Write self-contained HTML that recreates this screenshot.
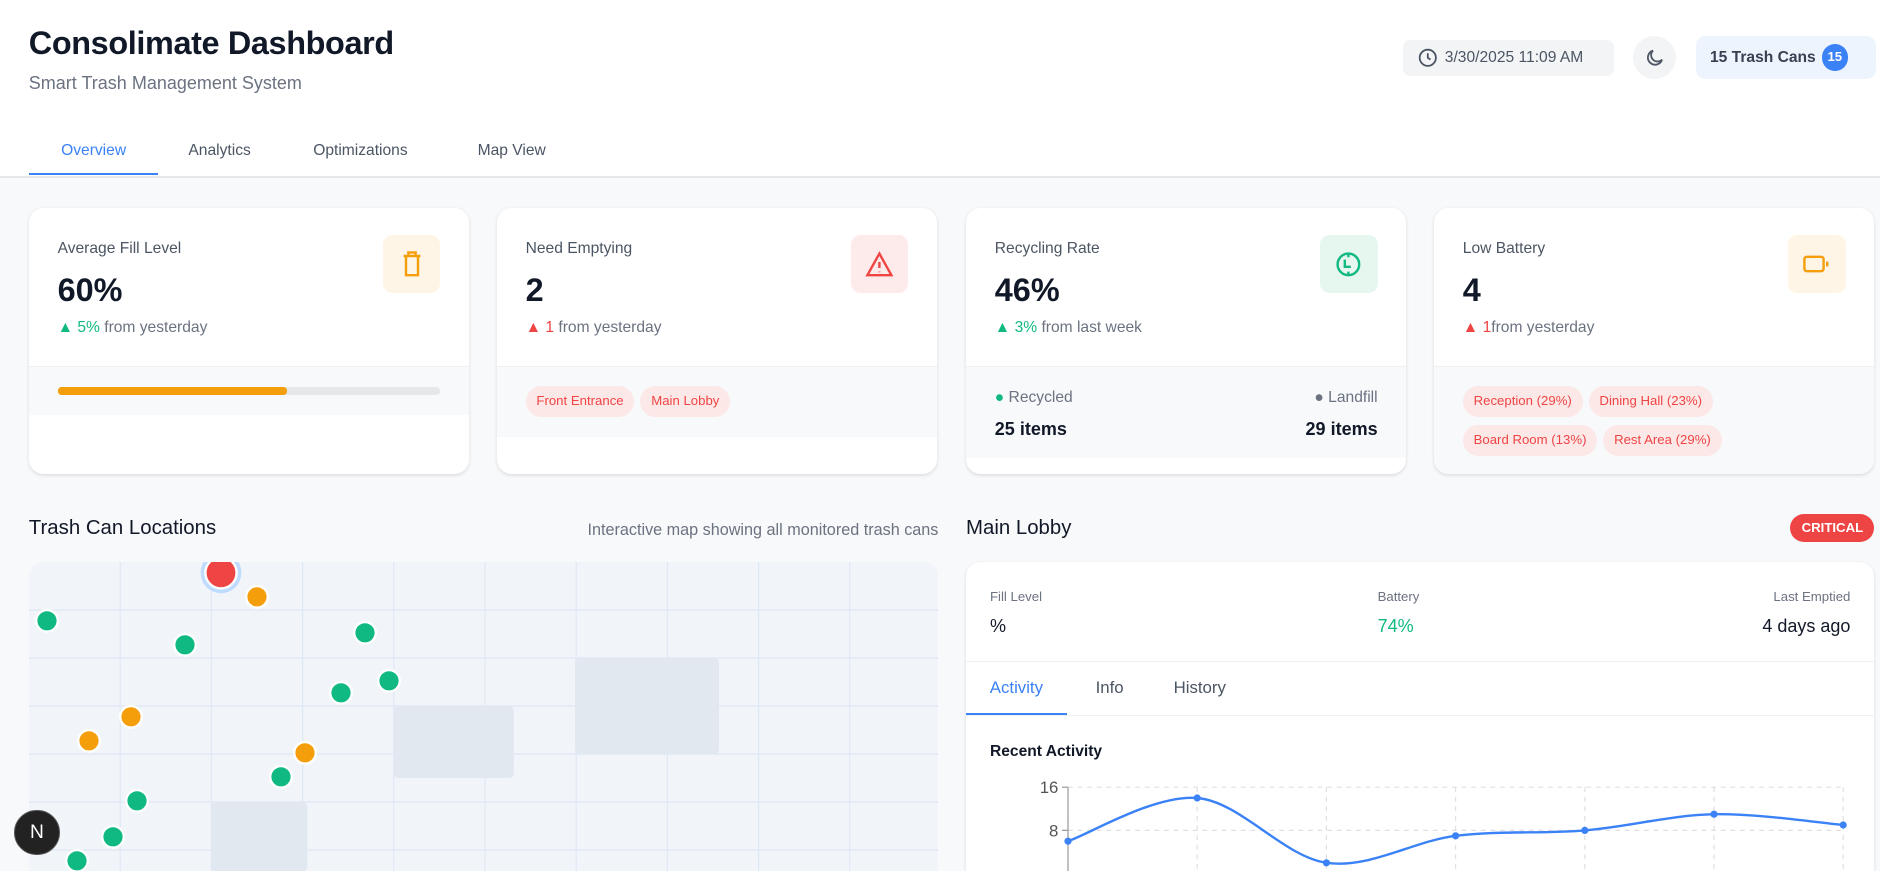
<!DOCTYPE html>
<html><head><meta charset="utf-8">
<style>
html,body{margin:0;padding:0;width:1880px;height:871px;overflow:hidden;background:#f8f9fb;font-family:"Liberation Sans",sans-serif;}
#root{position:relative;width:1567px;height:726px;zoom:1.2;overflow:hidden;background:#f8f9fb;}
.abs{position:absolute;}
.card{position:absolute;background:#fff;border-radius:12px;box-shadow:0 1px 3px rgba(0,0,0,.12);overflow:hidden;}
.lbl{position:absolute;font-size:13px;color:#4b5563;}
.big{position:absolute;font-size:27px;font-weight:bold;color:#111827;}
.chg{position:absolute;font-size:13px;color:#6b7280;}
.ibox{position:absolute;width:48px;height:48px;border-radius:8px;}
.foot{position:absolute;left:0;right:0;top:132px;height:40px;background:#f8f9fb;border-top:1px solid #eef0f3;}
.pill{display:inline-block;background:#fde8e8;color:#ef4444;font-size:11px;line-height:14px;border-radius:13px;padding:6px 9px;margin:0 5px 6px 0;white-space:nowrap;}
</style></head><body>
<div id="root">
<div class="abs" style="left:0;top:0;width:1567px;height:147px;background:#fff;border-bottom:2px solid #e5e7eb;"></div>
<div class="abs" style="left:24px;top:21px;font-size:27px;font-weight:bold;color:#111827;letter-spacing:-0.3px;">Consolimate Dashboard</div>
<div class="abs" style="left:24px;top:61px;font-size:15px;color:#6b7280;">Smart Trash Management System</div>
<div class="abs" style="left:1169px;top:33px;width:176px;height:30px;background:#f3f4f6;border-radius:6px;font-size:13px;color:#4b5563;line-height:30px;">
<svg class="abs" style="left:12px;top:6px" width="18" height="18" viewBox="0 0 24 24" fill="none" stroke="#4b5563" stroke-width="2"><circle cx="12" cy="12" r="9"/><path d="M12 7v5l3 2"/></svg>
<span style="position:absolute;left:35px;">3/30/2025 11:09 AM</span></div>
<div class="abs" style="left:1361px;top:30px;width:36px;height:36px;border-radius:50%;background:#f3f4f6;">
<svg class="abs" style="left:9px;top:9px" width="18" height="18" viewBox="0 0 24 24" fill="none" stroke="#4b5563" stroke-width="2"><path d="M20 14A8 8 0 1 1 10 4a6 6 0 0 0 10 10z"/></svg></div>
<div class="abs" style="left:1413px;top:30px;width:150px;height:36px;border-radius:8px;background:#eef4fe;">
<span class="abs" style="left:12px;top:11px;font-size:13px;font-weight:bold;color:#374151;">15 Trash Cans</span>
<span class="abs" style="left:105px;top:7px;width:22px;height:22px;border-radius:50%;background:#3b82f6;color:#fff;font-size:11px;font-weight:bold;text-align:center;line-height:22px;">15</span></div>
<div class="abs" style="left:24px;top:109px;width:108px;height:37px;text-align:center;font-size:13px;color:#3b82f6;border-bottom:2px solid #3b82f6;box-sizing:border-box;padding-top:9px;">Overview</div>
<div class="abs" style="left:157px;top:118px;font-size:13px;color:#4b5563;">Analytics</div>
<div class="abs" style="left:261px;top:118px;font-size:13px;color:#4b5563;">Optimizations</div>
<div class="abs" style="left:398px;top:118px;font-size:13px;color:#4b5563;">Map View</div>

<div class="card" style="left:24px;top:173px;width:367px;height:222px;">
<div class="lbl" style="left:24px;top:27px;">Average Fill Level</div>
<div class="big" style="left:24px;top:54px;">60%</div>
<div class="chg" style="left:24px;top:93px;"><span style="color:#10b981">▲ 5%</span> from yesterday</div>
<div class="ibox" style="left:295px;top:23px;background:#fef5e6;"><svg style="position:absolute;left:14px;top:12px" width="20" height="24" viewBox="0 0 20 24" fill="none" stroke="#f59e0b" stroke-width="2"><path d="M3 5h14M7 5V2h6v3M5 5v16h10V5"/></svg></div>
<div class="foot" style="height:40px;"><div class="abs" style="left:24px;top:17px;width:319px;height:6px;background:#e5e7eb;border-radius:3px;"><div style="width:60%;height:100%;background:#f59e0b;border-radius:3px;"></div></div></div>
</div>
<div class="card" style="left:414px;top:173px;width:367px;height:222px;">
<div class="lbl" style="left:24px;top:27px;">Need Emptying</div>
<div class="big" style="left:24px;top:54px;">2</div>
<div class="chg" style="left:24px;top:93px;"><span style="color:#ef4444">▲ 1</span> from yesterday</div>
<div class="ibox" style="left:295px;top:23px;background:#fdeaea;"><svg style="position:absolute;left:12px;top:12px" width="24" height="24" viewBox="0 0 24 24" fill="none" stroke="#ef4444" stroke-width="2"><path d="M12 3L2 21h20z M12 10v5 M12 18v.5"/></svg></div>
<div class="foot" style="height:58px;"><div class="abs" style="left:24px;top:16px;white-space:nowrap;"><span class="pill">Front Entrance</span><span class="pill">Main Lobby</span></div></div>
</div>
<div class="card" style="left:805px;top:173px;width:367px;height:222px;">
<div class="lbl" style="left:24px;top:27px;">Recycling Rate</div>
<div class="big" style="left:24px;top:54px;">46%</div>
<div class="chg" style="left:24px;top:93px;"><span style="color:#10b981">▲ 3%</span> from last week</div>
<div class="ibox" style="left:295px;top:23px;background:#e6f7f0;"><svg style="position:absolute;left:12px;top:12px" width="24" height="24" viewBox="0 0 24 24" fill="none" stroke="#10b981" stroke-width="2"><circle cx="12" cy="12" r="9"/><path d="M9 8v6h5M12 3v3M12 18v3"/></svg></div>
<div class="foot" style="height:76px;">
<div class="abs" style="left:24px;top:18px;font-size:13px;color:#6b7280;"><span style="color:#10b981">●</span> Recycled</div>
<div class="abs" style="right:24px;top:18px;font-size:13px;color:#6b7280;"><span style="color:#6b7280">●</span> Landfill</div>
<div class="abs" style="left:24px;top:43px;font-size:15px;font-weight:bold;color:#111827;">25 items</div>
<div class="abs" style="right:24px;top:43px;font-size:15px;font-weight:bold;color:#111827;">29 items</div></div>
</div>
<div class="card" style="left:1195px;top:173px;width:367px;height:222px;">
<div class="lbl" style="left:24px;top:27px;">Low Battery</div>
<div class="big" style="left:24px;top:54px;">4</div>
<div class="chg" style="left:24px;top:93px;"><span style="color:#ef4444">▲ 1</span>from yesterday</div>
<div class="ibox" style="left:295px;top:23px;background:#fef5e6;"><svg style="position:absolute;left:12px;top:14px" width="24" height="20" viewBox="0 0 24 20" fill="none" stroke="#f59e0b" stroke-width="2"><rect x="2" y="4" width="16" height="12" rx="2"/><path d="M21 8v4"/></svg></div>
<div class="foot" style="height:90px;"><div class="abs" style="left:24px;top:16px;width:300px;font-size:0;"><span class="pill">Reception (29%)</span><span class="pill">Dining Hall (23%)</span><br><span class="pill">Board Room (13%)</span><span class="pill">Rest Area (29%)</span></div></div>
</div>

<div class="abs" style="left:24px;top:431px;font-size:17px;color:#111827;">Trash Can Locations</div>
<div class="abs" style="right:785px;top:434px;font-size:13.5px;color:#6b7280;">Interactive map showing all monitored trash cans</div>
<svg class="abs" style="left:24px;top:468px" width="758" height="258" id="map"></svg>

<div class="abs" style="left:805px;top:431px;font-size:17px;color:#111827;">Main Lobby</div>
<div class="abs" style="left:1492px;top:428px;width:70px;height:24px;border-radius:12px;background:#ef4444;color:#fff;font-size:11px;font-weight:bold;text-align:center;line-height:24px;">CRITICAL</div>
<div class="card" style="left:805px;top:468px;width:757px;height:258px;border-radius:12px 12px 0 0;">
<div class="abs" style="left:20px;top:23px;font-size:11px;color:#6b7280;">Fill Level</div>
<div class="abs" style="left:20px;top:45px;font-size:15px;color:#111827;">%</div>
<div class="abs" style="left:343px;top:23px;font-size:11px;color:#6b7280;">Battery</div>
<div class="abs" style="left:343px;top:45px;font-size:15px;color:#10b981;">74%</div>
<div class="abs" style="right:20px;top:23px;font-size:11px;color:#6b7280;">Last Emptied</div>
<div class="abs" style="right:20px;top:45px;font-size:15px;color:#111827;">4 days ago</div>
<div class="abs" style="left:0;right:0;top:83px;border-top:1px solid #eef0f3;"></div>
<div class="abs" style="left:0;top:84px;width:84px;height:44px;box-sizing:border-box;border-bottom:2px solid #3b82f6;color:#3b82f6;font-size:14px;text-align:center;padding-top:13px;">Activity</div>
<div class="abs" style="left:108px;top:97px;color:#4b5563;font-size:14px;">Info</div>
<div class="abs" style="left:173px;top:97px;color:#4b5563;font-size:14px;">History</div>
<div class="abs" style="left:0;right:0;top:128px;border-top:1px solid #eef0f3;"></div>
<div class="abs" style="left:20px;top:151px;font-size:13px;font-weight:bold;color:#111827;">Recent Activity</div>
</div>
<svg class="abs" style="left:805px;top:640px;overflow:hidden" width="757" height="86" id="chart"></svg>

<div class="abs" style="left:12px;top:675px;width:36px;height:36px;border-radius:50%;background:#222;border:1px solid #555;color:#fff;font-size:16px;text-align:center;line-height:36px;">N</div>
</div>
<script>
const NS='http://www.w3.org/2000/svg';
function mk(p,t,a){const e=document.createElementNS(NS,t);for(const k in a)e.setAttribute(k,a[k]);p.appendChild(e);return e;}
const map=document.getElementById('map');
mk(map,'rect',{x:0,y:0,width:758,height:300,rx:12,fill:'#f1f4f9'});
for(let i=1;i<10;i++)mk(map,'line',{x1:i*76,y1:0,x2:i*76,y2:258,stroke:'#dfe8f5'});
for(let j=1;j<7;j++)mk(map,'line',{x1:0,y1:j*40,x2:758,y2:j*40,stroke:'#dfe8f5'});
[[304,120,100,60],[455,80,120,80],[152,200,80,58]].forEach(r=>mk(map,'rect',{x:r[0],y:r[1],width:r[2],height:r[3],rx:4,fill:'#e2e8f0'}));
const dotX=[15,130,280,300,260,210,90,70,40,190,85,50,230];
const dotY=[49,69,59,99,109,179,199,229,249,29,129,149,159];
const dotC=['g','g','g','g','g','g','g','g','g','o','o','o','o'];
for(let i=0;i<dotX.length;i++){const c=mk(map,'circle',{cx:dotX[i],cy:dotY[i],r:9,fill:dotC[i]=='g'?'#10b981':'#f59e0b',stroke:'#fff','stroke-width':2});

}
mk(map,'circle',{cx:160,cy:9,r:17,fill:'#bfdbfe'});
const red=mk(map,'circle',{cx:160,cy:9,r:13,fill:'#ef4444',stroke:'#fff','stroke-width':2});


</script>
<script>
const categories=['Mon','Tue','Wed','Thu','Fri','Sat','Sun'];
const activityValues=[6,14,2,7,8,11,9];
const yTicks=[8,16];
const ch=document.getElementById('chart');
const x0=85,x1=731,baseY=88,pxPer=4.5;
const xs=i=>x0+i*(x1-x0)/(categories.length-1);
const ys=v=>baseY-v*pxPer;
function mk2(p,t,a){const e=document.createElementNS('http://www.w3.org/2000/svg',t);for(const k in a)e.setAttribute(k,a[k]);p.appendChild(e);return e;}
yTicks.forEach(t=>{mk2(ch,'line',{x1:x0,y1:ys(t),x2:x1,y2:ys(t),stroke:'#e0e0e0','stroke-dasharray':'4 4'});
mk2(ch,'line',{x1:x0-5,y1:ys(t),x2:x0,y2:ys(t),stroke:'#999'});
const tx=mk2(ch,'text',{x:x0-8,y:ys(t)+5,'text-anchor':'end','font-size':14,fill:'#555','font-family':'Liberation Sans'});tx.textContent=t;

});
categories.forEach((c,i)=>mk2(ch,'line',{x1:xs(i),y1:ys(16),x2:xs(i),y2:86,stroke:'#e0e0e0','stroke-dasharray':'4 4'}));
mk2(ch,'line',{x1:x0,y1:ys(16),x2:x0,y2:86,stroke:'#999'});
const P=activityValues.map((v,i)=>[xs(i),ys(v)]);
let d='M'+P[0][0]+','+P[0][1];
for(let i=0;i<P.length-1;i++){const p0=P[Math.max(0,i-1)],p1=P[i],p2=P[i+1],p3=P[Math.min(P.length-1,i+2)];
d+=' C'+(p1[0]+(p2[0]-p0[0])/6)+','+(p1[1]+(p2[1]-p0[1])/6)+' '+(p2[0]-(p3[0]-p1[0])/6)+','+(p2[1]-(p3[1]-p1[1])/6)+' '+p2[0]+','+p2[1];}
const line=mk2(ch,'path',{d:d,fill:'none',stroke:'#3b82f6','stroke-width':2});


P.forEach(p=>{const c=mk2(ch,'circle',{cx:p[0],cy:p[1],r:3,fill:'#3b82f6'});

});
</script>
</body></html>
